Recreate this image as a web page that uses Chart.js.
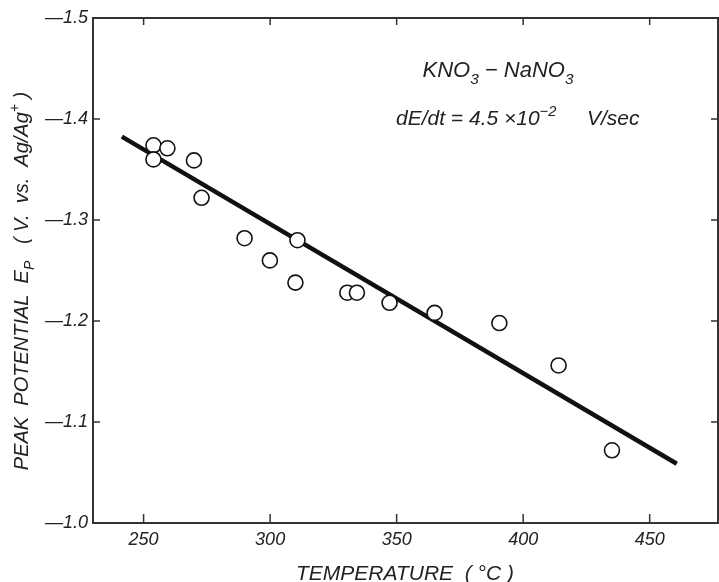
<!DOCTYPE html>
<html>
<head>
<meta charset="utf-8">
<script src="https://cdn.jsdelivr.net/npm/chart.js@4"></script>
<style>
html, body { margin: 0; padding: 0; background: #fff; }
</style>
</head>
<body>
<canvas id="peakChart" width="719" height="582"></canvas>
<script>
// measured points (temperature in °C, peak potential in V)
var temps = [253.9, 259.4, 253.9, 269.9, 272.9, 289.9, 299.9, 310.8, 310.0, 330.5, 334.3, 347.2, 365.0, 390.6, 414.0, 435.1];
var potentials = [-1.374, -1.371, -1.360, -1.359, -1.322, -1.282, -1.260, -1.280, -1.238, -1.228, -1.228, -1.218, -1.208, -1.198, -1.156, -1.072];

// fitted straight line, end points
var fitTemps = [241.4, 460.7];
var fitPotentials = [-1.3825, -1.0587];

var xTicks = [250, 300, 350, 400, 450];
var yTicks = [-1.5, -1.4, -1.3, -1.2, -1.1, -1.0];

var FONT = "'Liberation Sans', 'DejaVu Sans', sans-serif";
var INK = '#222';

function pairs(xs, ys) {
    return xs.map((x, i) => ({ x: x, y: ys[i] }));
}

// draws text with sub/superscript parts: [text, shift] shift 1 = sub, -1 = sup
function drawRich(ctx, parts, x, y, size, align) {
    ctx.textBaseline = 'alphabetic';
    ctx.textAlign = 'left';
    let total = 0;
    parts.forEach(p => {
        ctx.font = 'italic ' + (p[1] ? size * 0.7 : size) + 'px ' + FONT;
        total += ctx.measureText(p[0]).width;
    });
    let cx = align === 'center' ? x - total / 2 : x;
    parts.forEach(p => {
        let s = p[1] ? size * 0.7 : size;
        ctx.font = 'italic ' + s + 'px ' + FONT;
        let dy = p[1] === 1 ? size * 0.3 : (p[1] === -1 ? -size * 0.45 : 0);
        ctx.fillText(p[0], cx, y + dy);
        cx += ctx.measureText(p[0]).width;
    });
}

const framePlugin = {
    id: 'frame',
    afterDraw(chart) {
        const ctx = chart.ctx;
        const a = chart.chartArea;
        const xs = chart.scales.x, ys = chart.scales.y;
        ctx.save();
        ctx.strokeStyle = '#333';
        ctx.lineWidth = 2;
        ctx.strokeRect(a.left, a.top, a.right - a.left, a.bottom - a.top);

        // inward tick marks on all four sides
        ctx.lineWidth = 1.5;
        ctx.beginPath();
        xTicks.forEach(v => {
            const px = xs.getPixelForValue(v);
            ctx.moveTo(px, a.bottom); ctx.lineTo(px, a.bottom - 9);
            ctx.moveTo(px, a.top); ctx.lineTo(px, a.top + 7);
        });
        yTicks.forEach(v => {
            const py = ys.getPixelForValue(v);
            ctx.moveTo(a.left, py); ctx.lineTo(a.left + 7, py);
            ctx.moveTo(a.right, py); ctx.lineTo(a.right - 7, py);
        });
        ctx.stroke();

        ctx.fillStyle = INK;
        drawRich(ctx, [['KNO', 0], ['3', 1], [' − NaNO', 0], ['3', 1]], 498, 77, 22, 'center');
        drawRich(ctx, [['dE/dt = 4.5 ×10', 0], ['−2', -1]], 396, 125, 21, 'left');
        drawRich(ctx, [['V/sec', 0]], 587, 125, 21, 'left');

        drawRich(ctx, [['TEMPERATURE  ( °C )', 0]], 405, 580, 21, 'center');

        ctx.translate(28, 281);
        ctx.rotate(-Math.PI / 2);
        drawRich(ctx, [['PEAK  POTENTIAL  E', 0], ['P', 1], ['   ( V.  vs.  Ag/Ag', 0], ['+', -1], [' )', 0]], 0, 0, 20, 'center');
        ctx.restore();
    }
};

new Chart(document.querySelector('#peakChart'), {
    type: 'scatter',
    data: {
        datasets: [{
            label: 'fit',
            type: 'line',
            data: pairs(fitTemps, fitPotentials),
            borderColor: '#111',
            borderWidth: 4.5,
            pointRadius: 0,
            fill: false,
            order: 2
        }, {
            label: 'Ep',
            data: pairs(temps, potentials),
            pointRadius: 7.5,
            pointBackgroundColor: '#fff',
            pointBorderColor: '#111',
            pointBorderWidth: 1.6,
            order: 1
        }]
    },
    options: {
        responsive: false,
        animation: false,
        layout: { autoPadding: false, padding: { left: 0, top: 18, right: 1, bottom: 0 } },
        plugins: {
            legend: { display: false },
            tooltip: { enabled: false }
        },
        scales: {
            x: {
                type: 'linear',
                min: 230,
                max: 477,
                afterBuildTicks: s => { s.ticks = xTicks.map(v => ({ value: v })); },
                afterFit: s => { s.height = 59; s.paddingRight = 0; s.paddingLeft = 0; },
                grid: { display: false, drawTicks: false },
                border: { display: false },
                ticks: {
                    padding: 6,
                    color: INK,
                    font: { family: FONT, size: 18, style: 'italic' }
                }
            },
            y: {
                type: 'linear',
                min: -1.5,
                max: -1.0,
                reverse: true,
                afterBuildTicks: s => { s.ticks = yTicks.map(v => ({ value: v })); },
                afterFit: s => { s.width = 93; s.paddingTop = 0; s.paddingBottom = 0; },
                grid: { display: false, drawTicks: false },
                border: { display: false },
                ticks: {
                    padding: 5,
                    color: INK,
                    font: { family: FONT, size: 18, style: 'italic' },
                    callback: v => '—' + Math.abs(v).toFixed(1)
                }
            }
        }
    },
    plugins: [framePlugin]
});
</script>
</body>
</html>
